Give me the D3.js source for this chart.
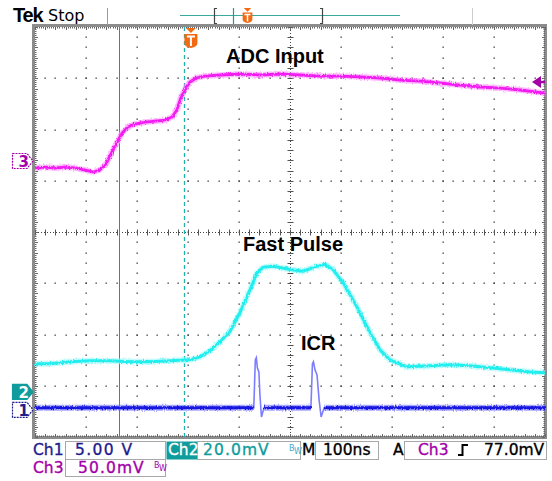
<!DOCTYPE html>
<html><head><meta charset="utf-8">
<script src="https://cdn.jsdelivr.net/npm/d3@7"></script>
<style>body{margin:0;background:#fff}svg{display:block}</style>
</head><body>
<svg id="c" width="552" height="481"></svg>
<script>
// ---- data (time in ns from left edge of screen, 100 ns/div) ----
const timeCh3 = [0,20,39,59,78,98,114,127,139,151,161,171,182,196,216,235,255,269,278,286,294,304,316,333,363,402,441,480,520,559,598,637,676,716,755,794,833,873,912,951,1000];
const ch3mV   = [-6.8,-5.9,-6.8,-5.9,-6.8,-8.8,-10.7,-8.8,-2.9,8.8,18.5,27.3,33.2,36.1,38.0,39.0,40.0,42.9,49.8,61.5,70.2,77.1,81.0,82.9,83.9,84.9,83.9,84.9,83.9,82.9,82.9,82.0,81.0,79.0,78.0,76.1,74.1,72.2,71.2,69.3,66.3];
const timeCh2 = [0,29,69,108,147,186,225,265,304,324,343,363,382,402,422,435,447,467,500,525,553,569,584,604,631,657,676,696,729,775,814,853,892,931,971,1000];
const ch2mV   = [11.0,11.0,11.8,12.2,12.2,11.8,11.8,12.2,12.5,13.7,16.1,19.6,23.5,31.0,40.0,46.3,48.6,49.0,47.8,47.1,49.0,49.8,47.8,42.7,33.3,23.1,16.5,12.5,9.8,10.2,10.6,10.2,9.4,8.6,7.8,7.5];
const timeCh1 = [0,429,432,434,436,439,441,444,449,541,544,546,549,553,557,561,567,1000];
const ch1V    = [0.2,0.2,4.9,5.1,4.1,3.7,1.5,-0.7,0.2,0.2,4.5,4.7,3.9,3.4,1.0,-0.7,0.2,0.2];
const channelNames = ["Ch1","Ch2","Ch3"];
const channelScales = ["5.00 V","20.0mV","50.0mV"];
const voltsPerDiv = [5, 20, 50];
const groundDiv = [-3.47, -3.12, 1.385];
const timebase = "100ns";
const triggerLevelText = "77.0mV";
const triggerLevel = 77.0;
const triggerTime = 292;
const cursorTime = 165;
const annotations = ["ADC Input","Fast Pulse","ICR"];

// ---- layout ----
const svg = d3.select('#c');
const X0=35, X1=545, Y0=27, Y1=437;
const x = d3.scaleLinear().domain([0,1000]).range([X0,X1]);
const yDiv = d3.scaleLinear().domain([-4,4]).range([Y1,Y0]);
const chScale = (perDiv,pos) => d3.scaleLinear().domain([(-4-pos)*perDiv,(4-pos)*perDiv]).range([Y1,Y0]);
const y1 = chScale(voltsPerDiv[0], groundDiv[0]);
const y2 = chScale(voltsPerDiv[1], groundDiv[1]);
const y3 = chScale(voltsPerDiv[2], groundDiv[2]);

const cTeal="#0e9c9c", cNavy="#1c1c8e", cPurple="#a400a8", cOrange="#f26a12";

// rendering texture for the acquisition noise of the traces (style only)
const defs = svg.append('defs');
const f = defs.append('filter').attr('id','grain').attr('filterUnits','userSpaceOnUse').attr('x',0).attr('y',0).attr('width',552).attr('height',481);
f.append('feTurbulence').attr('type','fractalNoise').attr('baseFrequency','0.9 0.35').attr('numOctaves',2).attr('seed',3).attr('result','n');
f.append('feDisplacementMap').attr('in','SourceGraphic').attr('in2','n').attr('scale',3.2).attr('xChannelSelector','R').attr('yChannelSelector','G');

// ---- graticule ----
const g = svg.append('g');
const majorT = d3.range(0,1001,100), minorT = d3.range(0,1001,20);
const majorD = d3.range(-4,4.01,1), minorD = d3.range(-4,4.01,0.2);
majorT.filter(t=>t>0&&t<1000&&t!==500).forEach(t=>{
  minorD.forEach(d=>{ g.append('rect').attr('x',Math.round(x(t))-0.5).attr('y',Math.round(yDiv(d))-0.5).attr('width',1.3).attr('height',1.3).attr('fill','#333'); });
});
majorD.filter(d=>d>-4&&d<4&&d!==0).forEach(d=>{
  minorT.forEach(t=>{ g.append('rect').attr('x',Math.round(x(t))-0.5).attr('y',Math.round(yDiv(d))-0.5).attr('width',1.3).attr('height',1.3).attr('fill','#333'); });
});
g.append('line').attr('x1',X0).attr('x2',X1).attr('y1',yDiv(0)+0.5).attr('y2',yDiv(0)+0.5).attr('stroke','#444').attr('stroke-dasharray','1,2');
g.append('line').attr('y1',Y0).attr('y2',Y1).attr('x1',x(500)+0.5).attr('x2',x(500)+0.5).attr('stroke','#444').attr('stroke-dasharray','1,2');
minorT.forEach(t=>{ g.append('line').attr('x1',Math.round(x(t))+0.5).attr('x2',Math.round(x(t))+0.5).attr('y1',yDiv(0)-2.5).attr('y2',yDiv(0)+3.5).attr('stroke','#555'); });
minorD.forEach(d=>{ g.append('line').attr('y1',Math.round(yDiv(d))+0.5).attr('y2',Math.round(yDiv(d))+0.5).attr('x1',x(500)-2.5).attr('x2',x(500)+3.5).attr('stroke','#555'); });
g.append('rect').attr('x',33.5).attr('y',25.5).attr('width',512).attr('height',412).attr('fill','none').attr('stroke','#8c8c8c').attr('stroke-width',3);
d3.range(0,1000.1,4).forEach((t,i)=>{
  const L = (i%5===0)?3:1.5;
  const xx=Math.round(x(t))+0.5;
  g.append('line').attr('x1',xx).attr('x2',xx).attr('y1',Y0).attr('y2',Y0+L).attr('stroke','#666');
  g.append('line').attr('x1',xx).attr('x2',xx).attr('y1',Y1).attr('y2',Y1-L).attr('stroke','#666');
});
d3.range(-4,4.001,0.04).forEach((d,i)=>{
  const L = (i%5===0)?3:1.5;
  const yy=Math.round(yDiv(d))+0.5;
  g.append('line').attr('y1',yy).attr('y2',yy).attr('x1',X0).attr('x2',X0+L).attr('stroke','#666');
  g.append('line').attr('y1',yy).attr('y2',yy).attr('x1',X1).attr('x2',X1-L).attr('stroke','#666');
});

svg.append('line').attr('x1',Math.round(x(cursorTime))+0.5).attr('x2',Math.round(x(cursorTime))+0.5).attr('y1',Y0).attr('y2',Y1).attr('stroke','#2f8f8f').attr('stroke-width',1);
svg.append('line').attr('x1',Math.round(x(triggerTime))+0.5).attr('x2',Math.round(x(triggerTime))+0.5).attr('y1',Y0).attr('y2',Y1).attr('stroke','#1fb0b0').attr('stroke-width',1.3).attr('stroke-dasharray','4,3');

// ---- traces ----
function drawTrace(ts, vs, ys, color, halo, w, def){
  const data = ts.map((t,i)=>({t, v:vs[i]}));
  const line = d3.line().x(d=>x(d.t)).y(d=>ys(d.v));
  if (def) line.defined(def);
  const gg = svg.append('g').attr('filter','url(#grain)');
  gg.append('path').attr('d',line(data)).attr('fill','none').attr('stroke',halo).attr('stroke-width',w+3).attr('stroke-linejoin','round').attr('opacity',0.6);
  gg.append('path').attr('d',line(data)).attr('fill','none').attr('stroke',color).attr('stroke-width',w).attr('stroke-linejoin','round');
}
drawTrace(timeCh3, ch3mV, y3, '#f21cf2', '#ff8cff', 2.8);
drawTrace(timeCh2, ch2mV, y2, '#22eeee', '#9ff8f8', 3);
{
  const data = timeCh1.map((t,i)=>({t, v:ch1V[i]}));
  const line = d3.line().x(d=>x(d.t)).y(d=>y1(d.v));
  svg.append('path').attr('d',line(data)).attr('fill','none').attr('stroke','#7d7dff').attr('stroke-width',1.6);
}
drawTrace(timeCh1, ch1V, y1, '#1414e0', '#6a6aff', 3, d=>Math.abs(d.v-0.2)<0.3);

// ---- annotations ----
const ann = svg.append('g').attr('font-family','"Liberation Sans", Arial, sans-serif').attr('font-weight','bold').attr('font-size',20).attr('fill','#000');
ann.append('text').attr('x',226).attr('y',63).text(annotations[0]);
ann.append('text').attr('x',243).attr('y',251).text(annotations[1]);
ann.append('text').attr('x',301).attr('y',350).text(annotations[2]);

function tMarker(cx, top, s){
  const m = svg.append('g');
  m.append('path').attr('d',`M${cx-5*s},${top} L${cx+5*s},${top} L${cx},${top+5*s} Z`).attr('fill',cOrange);
  m.append('path').attr('d',`M${cx-6.5*s},${top+6*s} H${cx+6.5*s} V${top+15*s} Q${cx+6.5*s},${top+19*s} ${cx},${top+20*s} Q${cx-6.5*s},${top+19*s} ${cx-6.5*s},${top+15*s} Z`).attr('fill',cOrange);
  m.append('path').attr('d',`M${cx-4*s},${top+8.5*s} H${cx+4*s} M${cx},${top+8.5*s} V${top+18*s}`).attr('stroke','#fff').attr('stroke-width',2*s).attr('fill','none');
}
tMarker(x(triggerTime)+7, 28, 1);

// ---- top status bar ----
svg.append('text').attr('x',13).attr('y',22).attr('font-family','"Liberation Sans", Arial, sans-serif').attr('font-weight','bold').attr('font-size',20).attr('letter-spacing',-1.2).text('Tek');
svg.append('text').attr('x',48).attr('y',21).attr('font-family','"DejaVu Sans", sans-serif').attr('font-size',16).text('Stop');
svg.append('line').attr('x1',107.5).attr('x2',107.5).attr('y1',8).attr('y2',25).attr('stroke','#999');
svg.append('line').attr('x1',472.5).attr('x2',472.5).attr('y1',8).attr('y2',25).attr('stroke','#ccc');
svg.append('line').attr('x1',180).attr('x2',400).attr('y1',15.5).attr('y2',15.5).attr('stroke','#3aa9a0').attr('stroke-width',1.2);
svg.append('path').attr('d','M217,8.5 H214.5 V23.5 H217').attr('fill','none').attr('stroke','#444').attr('stroke-width',1.2);
svg.append('path').attr('d','M320,8.5 H322.5 V23.5 H320').attr('fill','none').attr('stroke','#444').attr('stroke-width',1.2);
svg.append('line').attr('x1',233.5).attr('x2',233.5).attr('y1',8).attr('y2',24).attr('stroke','#1f9a9a').attr('stroke-width',1.2);
tMarker(247.5, 8, 0.75);

// ---- channel ground markers ----
function chMarker(yc, label, stroke, fill, textColor){
  const h=7.5, xa=12.5, xb=33;
  svg.append('path').attr('d',`M${xa},${yc-h} H${xb-6} L${xb},${yc} L${xb-6},${yc+h} H${xa} Z`).attr('fill',fill).attr('stroke',stroke).attr('stroke-width',1.2).attr('stroke-dasharray', fill==='#fff'?'2,1':null);
  svg.append('text').attr('x',18.5).attr('y',yc+6).attr('font-family','"DejaVu Sans", sans-serif').attr('font-weight','bold').attr('font-size',15).attr('fill',textColor).text(label);
}
chMarker(y3(0), '3', cPurple, '#fff', cPurple);
chMarker(y2(0), '2', cTeal, cTeal, '#fff');
chMarker(y1(0), '1', cNavy, '#fff', cNavy);
{
  const ty = y3(triggerLevel);
  svg.append('path').attr('d',`M532,${ty} L541,${ty-6} L541,${ty+6} Z`).attr('fill',cPurple);
  svg.append('line').attr('x1',540).attr('x2',545).attr('y1',ty).attr('y2',ty).attr('stroke',cPurple).attr('stroke-width',2.5);
}

// ---- bottom status ----
const st = svg.append('g').attr('font-family','"DejaVu Sans", sans-serif').attr('font-size',15.5);
function box(xa,xb,ya,yb,fill){ st.append('rect').attr('x',xa).attr('y',ya).attr('width',xb-xa).attr('height',yb-ya).attr('fill',fill||'#fff').attr('stroke',fill?'none':'#a8a8a8'); }
box(65.5,165.5,441.5,459.5);
box(166.5,198,441.5,459.5,cTeal);
box(197.5,300.5,441.5,459.5);
box(315.5,378.5,441.5,459.5);
box(404.5,546.5,441.5,459.5);
box(65.5,165.5,459.5,476.5);
function txt(xp, yp, c, s, ls){
  const t = st.append('text').attr('x',xp).attr('y',yp).attr('fill',c).attr('stroke',c).attr('stroke-width',0.35).text(s);
  if (ls) t.attr('letter-spacing',ls);
  return t;
}
txt(33,455,cNavy,channelNames[0]);
txt(75,455,cNavy,channelScales[0],1.4);
txt(168,455,'#fff',channelNames[1]);
txt(203,455,cTeal,channelScales[1],1.1);
txt(33,473,cPurple,channelNames[2]);
txt(78,473,cPurple,channelScales[2],1.1);
function bw(xp, yp, c){
  st.append('text').attr('x',xp).attr('y',yp).attr('font-size',8).attr('fill',c).text('B');
  st.append('text').attr('x',xp+5).attr('y',yp+3).attr('font-size',8).attr('fill',c).text('W');
}
bw(289,451,'#3aaad0');
bw(154,468,cPurple);
txt(302,455,'#000','M');
txt(323,455,'#000',timebase);
txt(393,455,'#000','A');
txt(418,455,cPurple,channelNames[2]);
st.append('path').attr('d','M458,455 H462.5 V445 H468').attr('fill','none').attr('stroke','#000').attr('stroke-width',2);
txt(484,455,'#000',triggerLevelText);
</script>
</body></html>
